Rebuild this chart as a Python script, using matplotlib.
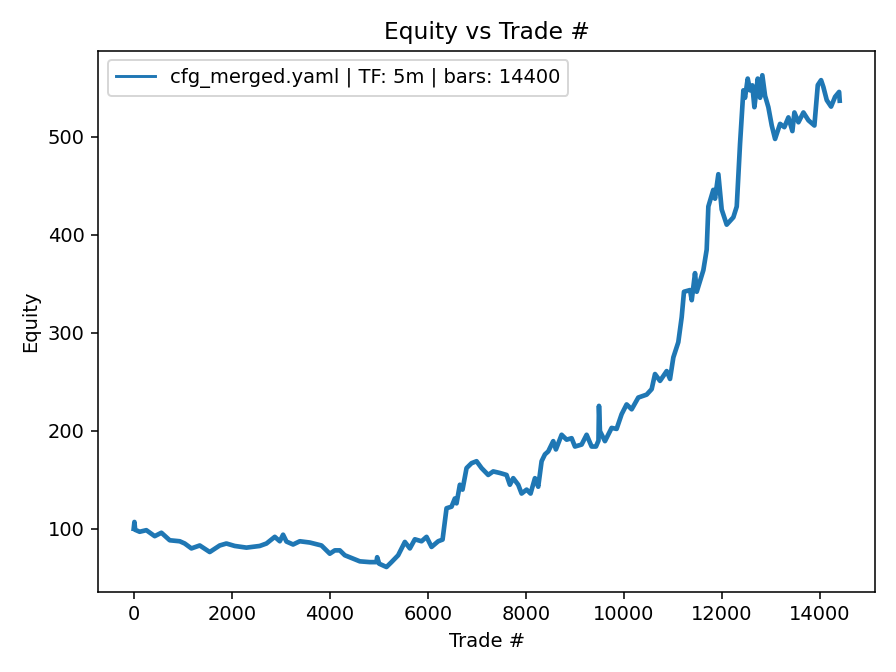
import matplotlib
matplotlib.use("Agg")
import matplotlib.pyplot as plt
from matplotlib.lines import Line2D

trade_idx = [0, 15, 30, 122, 258, 429, 565, 735, 939, 1041, 1177, 1347, 1551, 1755,
             1891, 2061, 2300, 2571, 2708, 2878, 2980, 3047, 3116, 3251, 3388, 3592,
             3830, 4000, 4102, 4204, 4306, 4612, 4816, 4950, 4966, 5007, 5156, 5258,
             5394, 5531, 5633, 5735, 5871, 5973, 6075, 6211, 6300, 6381, 6483, 6551,
             6585, 6653, 6707, 6789, 6891, 6993, 7095, 7231, 7333, 7469, 7605, 7673,
             7741, 7843, 7912, 8014, 8095, 8184, 8251, 8320, 8388, 8455, 8557, 8612,
             8728, 8830, 8932, 9000, 9136, 9238, 9340, 9429, 9480, 9490, 9510, 9612,
             9748, 9850, 9952, 10054, 10157, 10292, 10463, 10565, 10633, 10735, 10871,
             10939, 11007, 11108, 11177, 11224, 11347, 11382, 11449, 11484, 11619,
             11687, 11721, 11822, 11857, 11925, 11993, 12095, 12231, 12300, 12367,
             12435, 12469, 12524, 12571, 12618, 12660, 12728, 12776, 12822, 12878,
             12945, 13014, 13082, 13136, 13184, 13271, 13354, 13435, 13476, 13558,
             13660, 13762, 13884, 13953, 14020, 14067, 14136, 14224, 14306, 14388,
             14400]
equity = [100, 107, 99, 97, 98.6, 92.5, 96, 88.3, 87.3, 85, 80, 83, 76.3, 83,
          85, 82.5, 80.8, 82.5, 85, 91.8, 87.3, 94, 87, 84, 87.3, 86,
          83, 74.6, 78, 78, 73, 66.8, 66, 66, 71, 64.4, 61, 66,
          73, 86.6, 80, 89.3, 87.3, 91.8, 81.5, 87.3, 89, 121, 122.6, 131,
          126, 145, 140, 162, 167, 169, 162, 155, 158.6, 157, 155, 145,
          151.7, 145, 136, 140, 136, 151.7, 143, 169, 176, 179, 189.5, 181,
          196, 191, 192.5, 184, 186, 196, 184, 184, 190, 225.5, 199.7, 189.5,
          203, 202, 217, 227, 222, 234, 237, 242.6, 258, 251, 261,
          253, 275, 290.5, 316, 342, 343.7, 333.4, 361, 342, 364,
          385, 429, 446, 437, 462, 426, 410.5, 418, 429, 492.8,
          547.6, 540, 559.6, 547.6, 552.7, 530.4, 559.6, 540, 563, 542,
          530.4, 511.7, 498, 506, 513.4, 510, 520, 506, 525, 515,
          525, 517, 511.7, 553, 558, 551, 537.6, 531, 541, 546,
          537]

legend_label = "cfg_merged.yaml | TF: 5m | bars: 14400"
line_color = "#1f77b4"

fig, ax = plt.subplots(figsize=(6.4, 4.8), dpi=140)
ax.plot(trade_idx, equity, color=line_color, lw=2.4, solid_joinstyle="round")
handle = Line2D([], [], color=line_color, lw=1.5)
ax.legend([handle], [legend_label], loc="upper left")
ax.set_title("Equity vs Trade #")
ax.set_xlabel("Trade #")
ax.set_ylabel("Equity")
fig.tight_layout()
fig.savefig("out.png", dpi=140)
